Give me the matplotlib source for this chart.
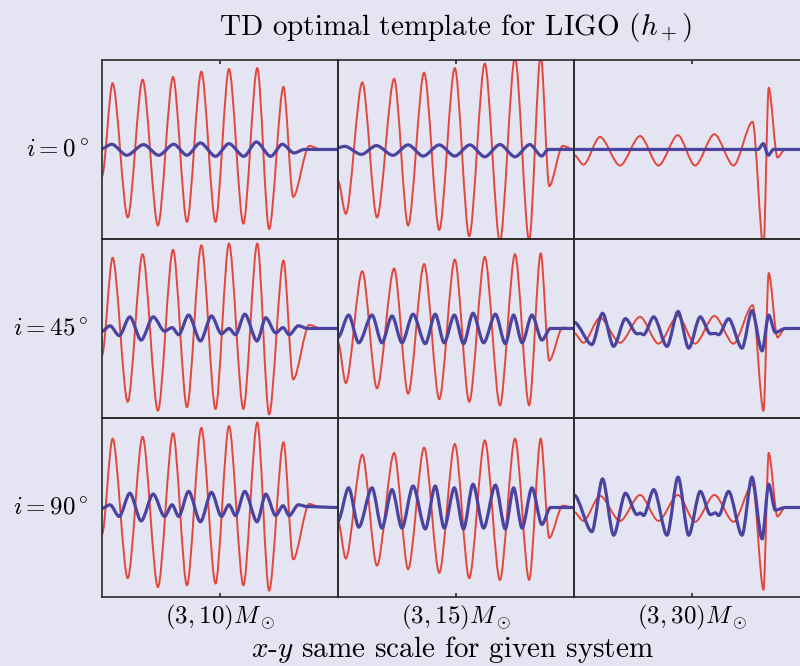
import matplotlib
matplotlib.use('Agg')
import matplotlib.pyplot as plt
from matplotlib.path import Path
from matplotlib.patches import PathPatch

# waveforms: time runs 0..1 across each panel, strain scaled to +-1 per system
col1_red_t = [0.0, 0.045, 0.109, 0.172, 0.237, 0.301, 0.360, 0.421, 0.481, 0.538,
              0.599, 0.658, 0.708, 0.769, 0.810, 0.878, 0.928]
col1_red_i0 = [-0.30, 0.74, -0.76, 0.78, -0.85, 0.81, -0.81, 0.87, -0.81, 0.90,
               -0.83, 0.91, -0.89, 0.70, -0.53, 0.04, 0.0]
col1_red_i45 = [-0.30, 0.79, -0.82, 0.83, -0.92, 0.88, -0.88, 0.93, -0.90, 0.95,
                -0.90, 0.95, -0.96, 0.76, -0.57, 0.04, 0.0]
col1_red_i90 = [-0.30, 0.77, -0.79, 0.79, -0.89, 0.83, -0.87, 0.89, -0.85, 0.91,
                -0.87, 0.95, -0.93, 0.73, -0.58, 0.04, 0.0]

col1_blue_i0_t = [0.0, 0.041, 0.105, 0.176, 0.240, 0.304, 0.360, 0.417, 0.481, 0.538,
                  0.601, 0.654, 0.715, 0.764, 0.814, 0.857, 1.0]
col1_blue_i0 = [0.01, 0.058, -0.065, 0.054, -0.065, 0.058, -0.065, 0.073, -0.077, 0.065,
                -0.077, 0.084, -0.077, 0.058, -0.039, 0.0, 0.0]

col1_blue_t = [0.0, 0.034, 0.073, 0.118, 0.166, 0.217, 0.265, 0.297, 0.325, 0.367,
               0.417, 0.464, 0.506, 0.538, 0.566, 0.605, 0.657, 0.694, 0.736, 0.767,
               0.793, 0.832, 0.871, 1.0]
col1_blue_i45 = [-0.03, 0.03, -0.08, 0.13, -0.13, 0.13, -0.03, 0.01, -0.07, 0.15,
                 -0.14, 0.14, -0.06, 0.0, -0.07, 0.16, -0.14, 0.12, -0.05, 0.01,
                 -0.07, 0.03, 0.0, 0.0]
col1_blue_i90 = [-0.01, 0.03, -0.10, 0.16, -0.15, 0.15, -0.10, 0.03, -0.10, 0.18,
                 -0.16, 0.17, -0.10, 0.03, -0.09, 0.18, -0.16, 0.15, -0.09, 0.02,
                 -0.09, 0.03, 0.01, 0.0]

col2_red_t = [0.0, 0.033, 0.103, 0.165, 0.238, 0.297, 0.365, 0.429, 0.495, 0.556,
              0.622, 0.686, 0.750, 0.810, 0.859, 0.895, 0.952, 1.0]
col2_red_i0 = [-0.35, -0.72, 0.75, -0.76, 0.79, -0.85, 0.86, -0.90, 0.91, -0.97,
               0.96, -1.03, 1.03, -1.02, 1.06, -0.41, 0.04, 0.0]
col2_red_i45 = [-0.15, -0.61, 0.64, -0.67, 0.67, -0.73, 0.72, -0.79, 0.77, -0.82,
                0.80, -0.86, 0.83, -0.86, 0.84, -0.36, 0.01, 0.0]
col2_red_i90 = [-0.15, -0.57, 0.59, -0.65, 0.61, -0.69, 0.67, -0.73, 0.71, -0.79,
                0.75, -0.81, 0.77, -0.81, 0.77, -0.34, 0.02, 0.0]

col2_blue_i0_t = [0.0, 0.028, 0.099, 0.163, 0.233, 0.297, 0.361, 0.429, 0.495, 0.559,
                  0.622, 0.686, 0.750, 0.813, 0.863, 0.891, 1.0]
col2_blue_i0 = [0.02, 0.035, -0.055, 0.043, -0.066, 0.051, -0.074, 0.051, -0.074, 0.051,
                -0.082, 0.055, -0.082, 0.055, -0.074, 0.0, 0.0]

col2_blue_t = [0.0, 0.045, 0.088, 0.144, 0.186, 0.229, 0.271, 0.318, 0.370, 0.412,
               0.450, 0.493, 0.532, 0.572, 0.617, 0.667, 0.709, 0.744, 0.780, 0.822,
               0.864, 0.900, 1.0]
col2_blue_i45 = [-0.10, 0.15, -0.16, 0.15, -0.16, 0.14, -0.16, 0.16, -0.17, 0.16,
                 -0.16, 0.15, -0.17, 0.17, -0.16, 0.16, -0.17, 0.15, -0.16, 0.15,
                 -0.13, 0.0, 0.0]
col2_blue_i90 = [-0.15, 0.22, -0.22, 0.22, -0.23, 0.20, -0.23, 0.24, -0.24, 0.24,
                 -0.23, 0.22, -0.24, 0.26, -0.23, 0.25, -0.24, 0.22, -0.23, 0.22,
                 -0.19, 0.0, 0.0]

col3_red_t = [0.0, 0.040, 0.110, 0.195, 0.280, 0.358, 0.440, 0.513, 0.595, 0.676,
              0.757, 0.803, 0.825, 0.862, 0.894, 0.95]
col3_red_i0 = [-0.06, -0.17, 0.14, -0.18, 0.15, -0.18, 0.16, -0.18, 0.17, -0.18,
               0.31, -1.10, 0.69, -0.09, 0.0, 0.0]
col3_red_i45 = [-0.05, -0.16, 0.12, -0.16, 0.13, -0.17, 0.14, -0.17, 0.14, -0.17,
                0.26, -0.92, 0.62, -0.10, 0.0, 0.0]
col3_red_i90 = [-0.05, -0.15, 0.13, -0.15, 0.14, -0.15, 0.14, -0.16, 0.14, -0.16,
                0.26, -0.92, 0.61, -0.10, 0.0, 0.0]

col3_blue_i0_t = [0.0, 0.780, 0.802, 0.823, 0.845, 1.0]
col3_blue_i0 = [0.0, 0.0, 0.065, -0.065, 0.0, 0.0]

col3_blue_t = [0.0, 0.076, 0.121, 0.168, 0.218, 0.267, 0.281, 0.295, 0.338, 0.394,
               0.441, 0.486, 0.535, 0.578, 0.599, 0.613, 0.655, 0.712, 0.754, 0.797,
               0.825, 0.853, 0.895, 1.0]
col3_blue_i45 = [0.07, -0.18, 0.17, -0.20, 0.11, -0.06, -0.055, -0.07, 0.13, -0.20,
                 0.19, -0.22, 0.13, -0.06, -0.055, -0.07, 0.11, -0.22, 0.20, -0.25,
                 0.15, -0.045, 0.0, 0.0]
col3_blue_i90 = [0.14, -0.27, 0.32, -0.31, 0.16, -0.08, -0.06, -0.09, 0.20, -0.31,
                 0.34, -0.31, 0.18, -0.08, -0.06, -0.09, 0.18, -0.31, 0.34, -0.35,
                 0.26, -0.03, 0.0, 0.0]

systems = [r'$(3,10)M_\odot$', r'$(3,15)M_\odot$', r'$(3,30)M_\odot$']
inclinations = [r'$i=0^\circ$', r'$i=45^\circ$', r'$i=90^\circ$']

BG = '#e5e4f2'
RED = '#e2473b'
BLUE = '#4a43a0'
FRAME = '#2a2a2a'


def smooth_path(t, h, k=0.30):
    """Cubic path through the turning points with flat tangents at each one."""
    verts = [(t[0], h[0])]
    codes = [Path.MOVETO]
    for i in range(1, len(t)):
        dt = t[i] - t[i - 1]
        verts += [(t[i - 1] + k * dt, h[i - 1]), (t[i] - k * dt, h[i]), (t[i], h[i])]
        codes += [Path.CURVE4] * 3
    return Path(verts, codes)


def draw_wave(ax, t, h, color, lw):
    ax.add_patch(PathPatch(smooth_path(t, h), fill=False, edgecolor=color,
                           lw=lw, joinstyle='round', capstyle='round'))


def build_panels():
    """Return [row][col] -> (red_t, red_h, blue_t, blue_h)."""
    return [
        [(col1_red_t, col1_red_i0, col1_blue_i0_t, col1_blue_i0),
         (col2_red_t, col2_red_i0, col2_blue_i0_t, col2_blue_i0),
         (col3_red_t, col3_red_i0, col3_blue_i0_t, col3_blue_i0)],
        [(col1_red_t, col1_red_i45, col1_blue_t, col1_blue_i45),
         (col2_red_t, col2_red_i45, col2_blue_t, col2_blue_i45),
         (col3_red_t, col3_red_i45, col3_blue_t, col3_blue_i45)],
        [(col1_red_t, col1_red_i90, col1_blue_t, col1_blue_i90),
         (col2_red_t, col2_red_i90, col2_blue_t, col2_blue_i90),
         (col3_red_t, col3_red_i90, col3_blue_t, col3_blue_i90)],
    ]


def plot_grid():
    plt.rcParams['mathtext.fontset'] = 'cm'
    fig = plt.figure(figsize=(8, 6.66), dpi=100, facecolor=BG)

    w, h = 0.295, 0.2688
    lefts = [0.1275 + c * w for c in range(3)]
    bottoms = [0.1036 + (2 - r) * h for r in range(3)]
    panels = build_panels()

    for r in range(3):
        for c in range(3):
            ax = fig.add_axes([lefts[c], bottoms[r], w, h])
            ax.set_facecolor('none')
            red_t, red_h, blue_t, blue_h = panels[r][c]
            draw_wave(ax, red_t, red_h, RED, 1.4)
            draw_wave(ax, blue_t, blue_h, BLUE, 2.3)
            ax.set_xlim(0, 1)
            ax.set_ylim(-1, 1)
            ax.set_yticks([])
            ax.set_xticks([0.5])
            ax.tick_params(axis='x', direction='in', length=3, width=1.2,
                           color=FRAME, labelbottom=False, labeltop=False,
                           top=(r == 0), bottom=(r == 2))
            for s in ax.spines.values():
                s.set_color(FRAME)
                s.set_linewidth(1.2)
            if c == 0:
                ax.text(-0.055, 0.5, inclinations[r], transform=ax.transAxes,
                        ha='right', va='center', fontsize=18)
            if r == 2:
                ax.text(0.5, -0.115, systems[c], transform=ax.transAxes,
                        ha='center', va='center', fontsize=18)

    fig.text(0.569, 0.947, r'TD optimal template for LIGO $(h_+)$', family='cmr10',
             ha='center', va='baseline', fontsize=21)
    fig.text(0.566, 0.014, r'$x$-$y$ same scale for given system', family='cmr10',
             ha='center', va='baseline', fontsize=21)

    fig.savefig('out.png', dpi=100, facecolor=BG)


if __name__ == "__main__":
    plot_grid()
